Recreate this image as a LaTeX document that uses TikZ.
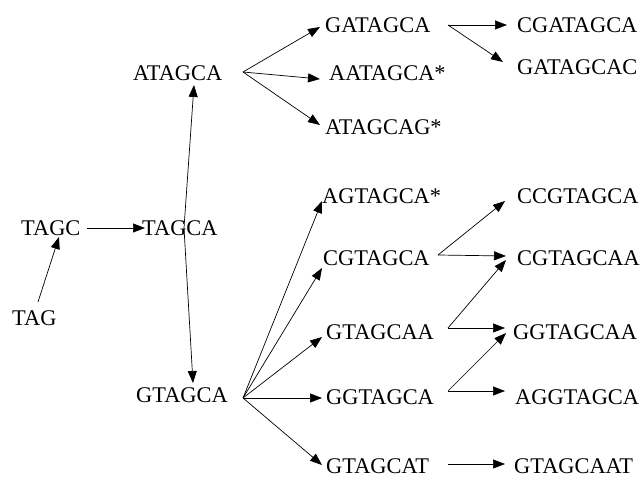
\documentclass[tikz,border=0pt]{standalone}
\usepackage{fontspec}
\setmainfont{Liberation Serif}
\usetikzlibrary{arrows.meta,calc}

\begin{document}
\begin{tikzpicture}[x=1pt,y=-1pt,
    every node/.style={font=\fontsize{22.4}{25}\selectfont},
    seq/.style={anchor=west,inner sep=0pt},
    arr/.style={-{Triangle[length=12pt,width=9pt]},line width=0.7pt}]
  \useasboundingbox (0,0) rectangle (641,478);

  % first levels
  \node[seq] (tag)    at ( 12,318) {TAG};
  \node[seq] (tagc)   at ( 21,228) {TAGC};
  \node[seq] (tagca)  at (142,228) {TAGCA};
  \node[seq] (atagca) at (133, 73) {ATAGCA};
  \node[seq] (gtagca) at (136,395) {GTAGCA};

  % upper branch
  \node[seq] (gatagca)  at (325, 25) {GATAGCA};
  \node[seq] (aatagca)  at (329, 73) {AATAGCA*};
  \node[seq] (atagcag)  at (325,127) {ATAGCAG*};
  \node[seq] (cgatagca) at (517, 25) {CGATAGCA};
  \node[seq] (gatagcac) at (517, 67) {GATAGCAC};

  % lower branch
  \node[seq] (agtagca)  at (322,196) {AGTAGCA*};
  \node[seq] (cgtagca)  at (323,258) {CGTAGCA};
  \node[seq] (gtagcaa)  at (326,332) {GTAGCAA};
  \node[seq] (ggtagca)  at (326,397) {GGTAGCA};
  \node[seq] (gtagcat)  at (326,466) {GTAGCAT};
  \node[seq] (ccgtagca) at (517,196) {CCGTAGCA};
  \node[seq] (cgtagcaa) at (517,258) {CGTAGCAA};
  \node[seq] (ggtagcaa) at (513,332) {GGTAGCAA};
  \node[seq] (aggtagca) at (515,397) {AGGTAGCA};
  \node[seq] (gtagcaat) at (514,466) {GTAGCAAT};

  \draw[arr] ($(tag.west)+(26,-16)$) -- ($(tagc.west)+(38,9)$);
  \draw[arr] ($(tagc.west)+(66,0)$) -- ($(tagca.west)+(3,0)$);
  \draw[arr] ($(tagca.west)+(42,0)$) -- ($(atagca.west)+(61,12)$);
  \draw[arr] ($(tagca.west)+(42,0)$) -- ($(gtagca.west)+(57,-12)$);

  \draw[arr] ($(atagca.west)+(110,-1)$) -- ($(gatagca.west)+(-5,2)$);
  \draw[arr] ($(atagca.west)+(110,-1)$) -- ($(aatagca.west)+(-9,6)$);
  \draw[arr] ($(atagca.west)+(110,-1)$) -- ($(atagcag.west)+(-5,-2)$);
  \draw[arr] ($(gatagca.west)+(123,0)$) -- ($(cgatagca.west)+(-10,0)$);
  \draw[arr] ($(gatagca.west)+(123,0)$) -- ($(gatagcac.west)+(-14,-5)$);

  \draw[arr] ($(gtagca.west)+(107,3)$) -- ($(agtagca.west)+(0,5)$);
  \draw[arr] ($(gtagca.west)+(107,3)$) -- ($(cgtagca.west)+(-1,10)$);
  \draw[arr] ($(gtagca.west)+(107,3)$) -- ($(gtagcaa.west)+(-4,5)$);
  \draw[arr] ($(gtagca.west)+(107,3)$) -- ($(ggtagca.west)+(-4,1)$);
  \draw[arr] ($(gtagca.west)+(107,3)$) -- ($(gtagcat.west)+(-4,-1)$);

  \draw[arr] ($(cgtagca.west)+(115,-3)$) -- ($(ccgtagca.west)+(-12,5)$);
  \draw[arr] ($(cgtagca.west)+(115,-3)$) -- ($(cgtagcaa.west)+(-11,-2)$);
  \draw[arr] ($(gtagcaa.west)+(122,-4)$) -- ($(cgtagcaa.west)+(-11,2)$);
  \draw[arr] ($(gtagcaa.west)+(122,-4)$) -- ($(ggtagcaa.west)+(-8,-4)$);
  \draw[arr] ($(ggtagca.west)+(122,-6)$) -- ($(ggtagcaa.west)+(-7,1)$);
  \draw[arr] ($(ggtagca.west)+(122,-6)$) -- ($(aggtagca.west)+(-10,-6)$);
  \draw[arr] ($(gtagcat.west)+(122,-2)$) -- ($(gtagcaat.west)+(-9,-2)$);
\end{tikzpicture}
\end{document}
